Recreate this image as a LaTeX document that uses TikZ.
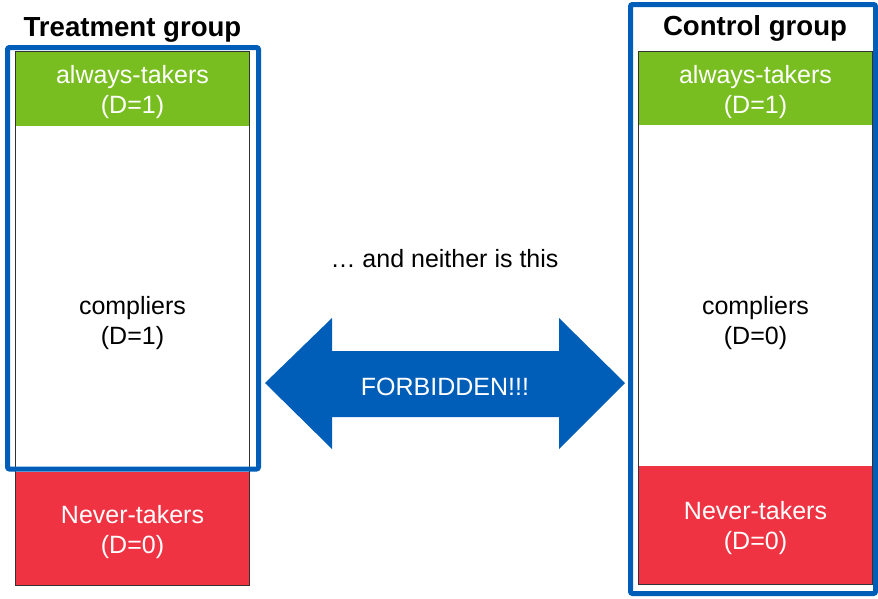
\documentclass[tikz,border=0pt]{standalone}
\usepackage{fontspec}
\setmainfont{Liberation Sans}
\usetikzlibrary{positioning}
\newcommand{\bandstrut}{\rule{0pt}{25pt}}
\definecolor{takergreen}{RGB}{120,190,32}
\definecolor{neverred}{RGB}{239,51,66}
\definecolor{groupblue}{RGB}{0,94,184}
\tikzset{
  band/.style={minimum width=233pt, inner sep=0pt, align=center,
               text=white, font=\fontsize{25}{30}\selectfont},
  always/.style={band, fill=takergreen},
  never/.style={band, fill=neverred},
  lab/.style={align=center, font=\fontsize{25}{30}\selectfont},
  grouptitle/.style={font=\fontsize{27.6}{33}\selectfont\bfseries},
  outline/.style={draw=black!80, line width=1pt},
  groupframe/.style={draw=groupblue, line width=5pt, rounded corners=2pt},
}

\begin{document}
\begin{tikzpicture}[x=1pt,y=-1pt]
  \path[use as bounding box] (0,0) rectangle (878,598);

  % treatment group
  \node[grouptitle] (tTitle) at (132.5,30) {Treatment group};
  \node[always, minimum height=74pt] (tAlways) at (132.5,89)
    {\bandstrut always-takers\\(D=1)};
  \node[never, minimum height=113pt] (tNever) at (132.5,528.5)
    {\bandstrut Never-takers\\(D=0)};
  \node[lab] (tComp) at (132.5,323) {compliers\\(D=1)};
  \draw[outline] (tAlways.north west) rectangle (tNever.south east);
  \draw[groupframe] (7.5,47.5) rectangle (258.5,469);

  % control group
  \node[grouptitle] (cTitle) at (755,28) {Control group};
  \node[always, minimum height=73pt] (cAlways) at (755.5,88.5)
    {\bandstrut always-takers\\(D=1)};
  \node[never, minimum height=118pt] (cNever) at (755.5,525)
    {\bandstrut Never-takers\\(D=0)};
  \node[lab] (cComp) at (755.5,323) {compliers\\(D=0)};
  \draw[outline] (cAlways.north west) rectangle (cNever.south east);
  \draw[groupframe] (630.5,4.5) rectangle (875.5,593.5);

  % forbidden comparison
  \node[lab] (note) at (444.5,258.5) {… and neither is this};
  \fill[groupblue] (265,383) -- (332,318) -- (332,351) -- (559,351)
    -- (559,318) -- (625,383) -- (559,449) -- (559,417) -- (332,417)
    -- (332,449) -- cycle;
  \node[lab, text=white] (forbid) at (445,387) {FORBIDDEN!!!};
\end{tikzpicture}
\end{document}
